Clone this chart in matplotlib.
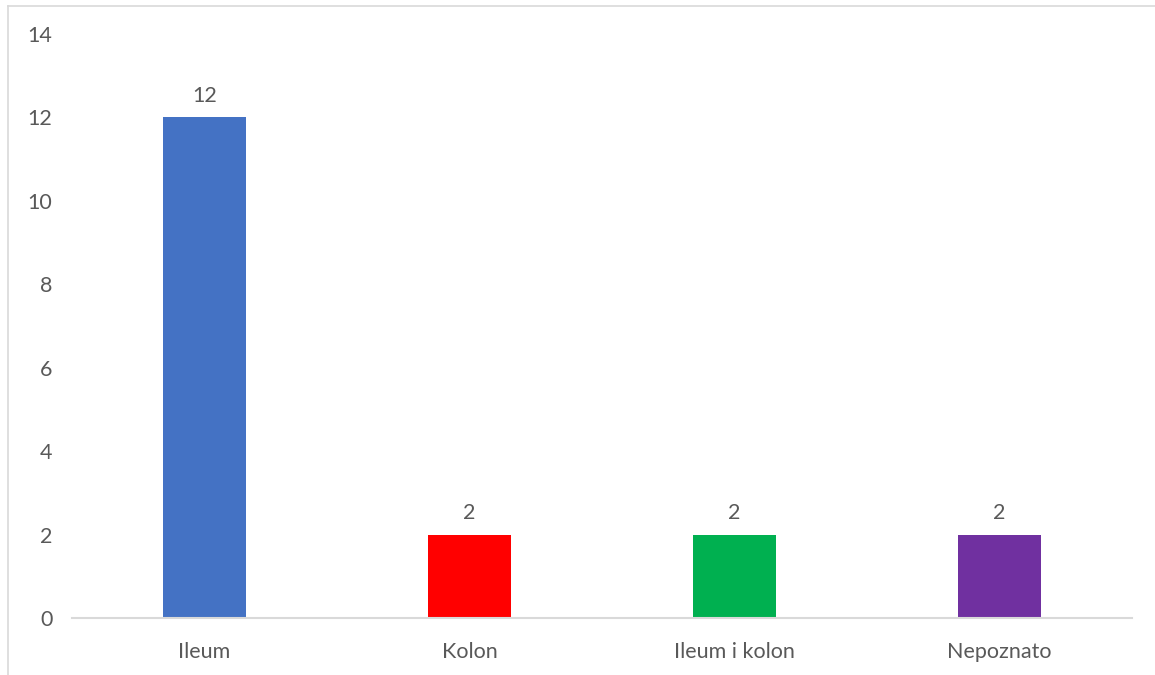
import matplotlib
matplotlib.use('Agg')
import matplotlib.pyplot as plt
from matplotlib.lines import Line2D

# Data
categories = ['Ileum', 'Kolon', 'Ileum i kolon', 'Nepoznato']
values = [12, 2, 2, 2]
colors = ['#4472C4', '#FF0000', '#00B050', '#7030A0']

plt.rcParams['font.family'] = ['Lato', 'DejaVu Sans']
text_color = '#595959'

fig = plt.figure(figsize=(11.55, 6.75), dpi=100)
ax = fig.add_axes([0.0623, 0.0844, 0.9177, 0.8652])

x = range(len(categories))
bars = ax.bar(x, values, width=0.315, color=colors, zorder=2)
for b, v in zip(bars, values):
    ax.annotate(str(v), (b.get_x() + b.get_width() / 2, v), xytext=(0, 8),
                textcoords='offset points', ha='center', va='bottom',
                fontsize=15.5, color=text_color)

ax.set_xlim(-0.5, len(categories) - 0.5)
ax.set_ylim(0, 14)
ax.set_yticks(range(0, 15, 2))
ax.set_xticks(list(x))
ax.set_xticklabels(categories)
ax.tick_params(axis='both', length=0, labelsize=15.5, colors=text_color)
ax.tick_params(axis='y', pad=14)
ax.tick_params(axis='x', pad=17)
for s in ['top', 'right', 'left']:
    ax.spines[s].set_visible(False)
ax.spines['bottom'].set_color('#D9D9D9')
ax.spines['bottom'].set_linewidth(1.5)

# outer chart border (left and top visible)
fig.add_artist(Line2D([8 / 1155, 8 / 1155], [0, 1 - 6 / 675], color='#D9D9D9', lw=1.2))
fig.add_artist(Line2D([8 / 1155, 1], [1 - 6 / 675, 1 - 6 / 675], color='#D9D9D9', lw=1.2))

fig.savefig('out.png', dpi=100)
